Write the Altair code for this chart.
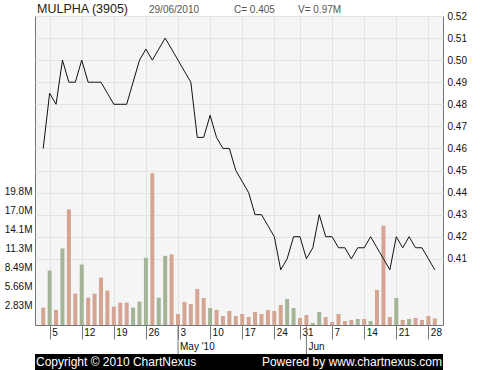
import altair as alt
import pandas as pd

# ---- data ----
price = [0.46, 0.485, 0.48, 0.50, 0.49, 0.49, 0.50, 0.49, 0.49, 0.49,
         0.485, 0.48, 0.48, 0.48, 0.49, 0.50, 0.505, 0.50, 0.505, 0.51,
         0.505, 0.50, 0.495, 0.49, 0.465, 0.465, 0.475, 0.465, 0.46, 0.46,
         0.45, 0.445, 0.44, 0.43, 0.43, 0.425, 0.42, 0.405, 0.41, 0.42,
         0.42, 0.41, 0.415, 0.43, 0.42, 0.42, 0.415, 0.415, 0.41, 0.415,
         0.415, 0.42, 0.415, 0.41, 0.405, 0.42, 0.415, 0.42, 0.415, 0.415,
         0.41, 0.405]
volume_m = [2.58, 8.1, 2.24, 11.4, 17.2, 4.67, 9.0, 4.07, 4.67, 7.05,
            5.12, 2.73, 3.33, 3.33, 2.58, 3.48, 10.0, 22.6, 4.07, 10.3,
            10.5, 1.64, 3.43, 3.13, 5.37, 4.02, 2.53, 2.24, 1.34, 2.09,
            1.34, 1.64, 1.19, 1.94, 1.64, 2.24, 2.09, 2.98, 3.87, 2.53,
            1.04, 1.49, 0.30, 1.94, 1.19, 0.45, 1.64, 0.60, 0.75, 0.89,
            0.89, 0.60, 5.22, 14.8, 1.19, 4.02, 0.75, 0.89, 1.04, 0.75,
            1.34, 0.97]
tick_index = [1, 6, 11, 16, 21, 26, 31, 36, 40, 45, 50, 55, 60]
tick_labels = ["5", "12", "19", "26", "3", "10", "17", "24", "31", "7", "14", "21", "28"]
month_index = [21, 41]
month_labels = ["May '10", "Jun"]
price_ticks = [0.41, 0.42, 0.43, 0.44, 0.45, 0.46, 0.47, 0.48, 0.49, 0.50, 0.51, 0.52]
vol_ticks = [2830000, 5660000, 8490000, 11320000, 14150000, 16980000, 19810000]
vol_tick_labels = ["2.83M", "5.66M", "8.49M", "11.3M", "14.1M", "17.0M", "19.8M"]
title_text = ["MULPHA (3905)"]
date_text = ["29/06/2010"]
close_text = ["C= 0.405"]
vol_text = ["V= 0.97M"]
copyright_text = ["Copyright \u00a9 2010 ChartNexus"]
powered_text = ["Powered by www.chartnexus.com"]

n = len(price)
direction = ["down"] + ["up" if price[i] > price[i - 1] else "down" for i in range(1, n)]
df = pd.DataFrame({
    "idx": list(range(n)),
    "price": price,
    "volume": [v * 1e6 for v in volume_m],
    "dir": direction,
})

label_arr = [""] * n
for i, l in zip(tick_index, tick_labels):
    label_arr[i] = l
x_label_expr = "[" + ",".join("'" + s + "'" for s in label_arr) + "][datum.value]"
vol_label_expr = "[" + ",".join("'" + s + "'" for s in vol_tick_labels) + "][round(datum.value/2830000)-1]"

FONT = "Liberation Sans"
BORDER = "#707878"
GRID = "#e2e2e2"

xscale = alt.Scale(domain=[-0.5, n - 0.5], nice=False, zero=False)
x_axis = alt.Axis(values=tick_index, labelExpr=x_label_expr, title=None,
                  grid=True, gridColor=GRID, domain=False,
                  ticks=True, tickSize=14, tickColor=BORDER,
                  labelAlign="left", labelBaseline="top", labelPadding=-12,
                  labelOffset=2, labelFont=FONT, labelFontSize=10,
                  labelColor="#111111", labelFlush=False, labelOverlap=False,
                  labelBound=False)

def X():
    return alt.X("idx:Q", scale=xscale, axis=x_axis)

base = alt.Chart(df)

bars = base.mark_bar(size=4).encode(
    x=X(),
    y=alt.Y("volume:Q", scale=alt.Scale(domain=[0, 46.0e6], nice=False),
            axis=alt.Axis(orient="left", values=vol_ticks, labelExpr=vol_label_expr,
                          title=None, grid=False, domain=False, ticks=False,
                          labelPadding=3, labelFont=FONT, labelFontSize=10,
                          labelColor="#111111")),
    color=alt.Color("dir:N", scale=alt.Scale(domain=["up", "down"],
                                             range=["#a3b596", "#d4a592"]), legend=None),
)

line = base.mark_line(color="#111111", strokeWidth=1).encode(
    x=X(),
    y=alt.Y("price:Q", scale=alt.Scale(domain=[0.38, 0.52], nice=False, zero=False),
            axis=alt.Axis(orient="right", values=price_ticks, format=".2f", title=None,
                          grid=True, gridColor=GRID, domain=False, ticks=False,
                          labelPadding=4, labelFont=FONT, labelFontSize=10,
                          labelColor="#111111")),
)

mdf = pd.DataFrame({"idx": month_index, "label": month_labels})
month_rules = alt.Chart(mdf).mark_rule(color=BORDER, strokeWidth=1).encode(
    x=X(), y=alt.value(309), y2=alt.value(338))
month_text = alt.Chart(mdf).mark_text(align="left", baseline="middle", dx=2,
                                      font=FONT, fontSize=10, color="#111111").encode(
    x=X(), y=alt.value(330.5), text="label:N")

def txt(values, x, y, size, color, align="left", weight="normal"):
    return alt.Chart(pd.DataFrame({"t": values})).mark_text(
        align=align, baseline="alphabetic", font=FONT, fontSize=size,
        color=color, fontWeight=weight).encode(
        x=alt.value(x), y=alt.value(y), text="t:N")

title = txt(title_text, 2, -3, 12.5, "#222222")
date = txt(date_text, 114, -3, 10, "#555555")
close = txt(close_text, 199, -3, 10, "#555555")
vol = txt(vol_text, 263, -3, 10, "#555555")

footer_bg = alt.Chart(pd.DataFrame({"a": [0]})).mark_rect(color="#000000").encode(
    x=alt.value(0), x2=alt.value(408), y=alt.value(338), y2=alt.value(354))
copyright = txt(copyright_text, 1, 350, 12, "#ffffff")
powered = txt(powered_text, 407, 350, 12, "#ffffff", align="right")

chart = alt.layer(
    bars, line, month_rules, month_text, title, date, close, vol,
    footer_bg, copyright, powered
).resolve_scale(y="independent").properties(
    width=408, height=309,
    autosize=alt.AutoSizeParams(type="none"),
    padding={"left": 35, "top": 16, "right": 37, "bottom": 45},
    background="#ffffff",
).configure_view(
    fill="#f5f5f5", stroke=BORDER, strokeWidth=1
)

chart.save("out.html", embed_options={"renderer": "svg", "actions": False})
